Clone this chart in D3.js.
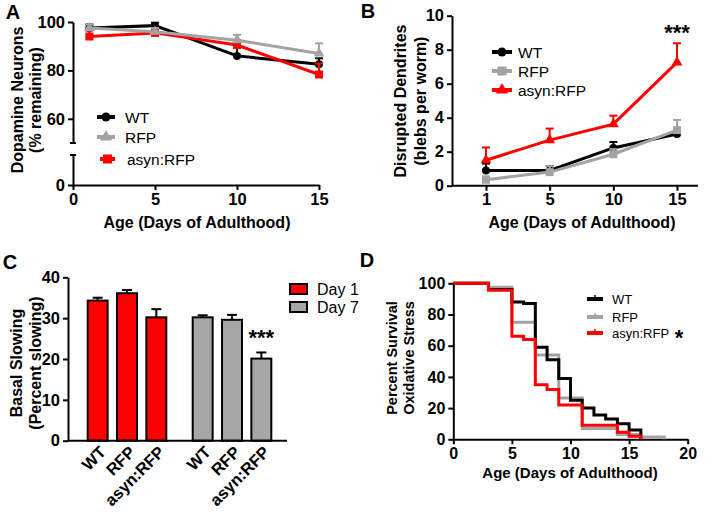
<!DOCTYPE html>
<html><head><meta charset="utf-8">
<script src="https://cdn.jsdelivr.net/npm/d3@7"></script>
<style>body{margin:0;background:#fff}svg{display:block}</style>
</head><body>
<script>
// ---------- DATA ----------
// Panel A: Dopamine neurons
const daysA = [1, 5, 10, 15];
const aWT = [97.5, 98.5, 86, 82.5];
const aWTerr = [1.5, 1.2, 4.5, 2.5];
const aRFP = [97.5, 96, 92.5, 87];
const aRFPerr = [1.5, 1.5, 2.2, 4.2];
const aAsyn = [94, 95.5, 90.5, 78.3];
const aAsynErr = [2.5, 1.5, 2, 4.5];
const aYTicks = [60, 80, 100];
const aXTicks = [0, 5, 10, 15];
// Panel B: Disrupted dendrites
const catsB = ["1", "5", "10", "15"];
const bWT = [0.9, 0.9, 2.22, 3.04];
const bWTerr = [0.4, 0.25, 0.35, 0.3];
const bRFP = [0.35, 0.8, 1.85, 3.27];
const bRFPerr = [0.2, 0.35, 0.3, 0.6];
const bAsyn = [1.5, 2.68, 3.62, 7.25];
const bAsynErr = [0.75, 0.68, 0.5, 1.13];
const bYTicks = [0, 2, 4, 6, 8, 10];
// Panel C: Basal slowing
const groupsC = ["Day 1", "Day 7"];
const genotypesC = ["WT", "RFP", "asyn:RFP"];
const cDay1 = [34.3, 36.1, 30.2];
const cDay1err = [0.7, 0.8, 2.0];
const cDay7 = [30.2, 29.6, 20.1];
const cDay7err = [0.5, 1.2, 1.5];
const cYTicks = [0, 10, 20, 30, 40];
// Panel D: Survival (time, percent)
const dWT = [[0,100],[3,96],[5,88],[6,87],[7,59],[8,51],[9,39],[10,25],[11,20],[12,15.5],[13,13],[14,10],[15,6],[16,0]];
const dRFP = [[0,100],[3,97.5],[5,75],[7,54],[9,26.5],[11,7],[14,3],[16,1.5],[18,0]];
const dAsyn = [[0,100],[3,95.5],[5,66],[6,64],[7,35],[8,32],[9,22],[11,9],[14,4.5],[15,2],[16,0]];
const dYTicks = [0, 20, 40, 60, 80, 100];
const dXTicks = [0, 5, 10, 15, 20];

// ---------- SETUP ----------
const RED = "#ff0000", GRAY = "#a3a3a3", BLACK = "#000";
const FONT = "'Liberation Sans', Arial, sans-serif";
const TICK_FS = 16.5, LAB_FS = 16;
const svg = d3.select("body").append("svg").attr("width", 711).attr("height", 514)
  .attr("font-family", FONT);

function styleAxis(g, fs) {
  g.select(".domain").attr("stroke-width", 2);
  g.selectAll(".tick line").attr("stroke-width", 2);
  g.selectAll(".tick text").attr("font-weight", "bold").attr("font-size", fs || TICK_FS)
    .attr("font-family", FONT).attr("fill", "#000");
}
function label(x, y, txt, opts = {}) {
  const t = svg.append("text").attr("x", x).attr("y", y).text(txt)
    .attr("font-size", opts.fs || LAB_FS).attr("font-weight", opts.w || "bold")
    .attr("text-anchor", opts.anchor || "middle").attr("dominant-baseline", "central");
  if (opts.rot) t.attr("transform", `rotate(${opts.rot},${x},${y})`);
  return t;
}
function marker(g, type, x, y, color, s) {
  if (type === "circle") g.append("circle").attr("cx", x).attr("cy", y).attr("r", s * 0.5).attr("fill", color);
  else if (type === "square") g.append("rect").attr("x", x - s / 2).attr("y", y - s / 2).attr("width", s).attr("height", s).attr("fill", color);
  else g.append("path").attr("d", d3.symbol(d3.symbolTriangle, s * s * 0.8)()).attr("transform", `translate(${x},${y})`).attr("fill", color);
}
function series(g, xs, ys, errs, yScale, color, mtype) {
  xs.forEach((x, i) => {
    const y0 = yScale(ys[i]), y1 = yScale(ys[i] + errs[i]);
    g.append("line").attr("x1", x).attr("x2", x).attr("y1", y0).attr("y2", y1).attr("stroke", color).attr("stroke-width", 2);
    g.append("line").attr("x1", x - 4).attr("x2", x + 4).attr("y1", y1).attr("y2", y1).attr("stroke", color).attr("stroke-width", 2);
  });
  g.append("path").attr("d", d3.line()(xs.map((x, i) => [x, yScale(ys[i])])))
    .attr("fill", "none").attr("stroke", color).attr("stroke-width", 3);
  xs.forEach((x, i) => marker(g, mtype, x, yScale(ys[i]), color, 8));
}
function legendItem(g, x1, x2, y, color, mtype, txt, tx, fs) {
  g.append("line").attr("x1", x1).attr("x2", x2).attr("y1", y).attr("y2", y).attr("stroke", color).attr("stroke-width", 4);
  if (mtype) marker(g, mtype, (x1 + x2) / 2, y, color, 9);
  g.append("text").attr("x", tx).attr("y", y).attr("dominant-baseline", "central").attr("font-size", fs || 15.5)
    .text(txt);
}

// ---------- PANEL A ----------
{
  const g = svg.append("g");
  const x = d3.scaleLinear().domain([0, 15]).range([73, 319]);
  const yU = d3.scaleLinear().domain([50, 100]).range([143, 22]);
  const yL = d3.scaleLinear().domain([0, 12.4]).range([185, 155]);
  const ax = g.append("g").attr("transform", "translate(0,185)")
    .call(d3.axisBottom(x).tickValues(aXTicks).tickSize(5).tickSizeOuter(0));
  styleAxis(ax);
  const ayU = g.append("g").attr("transform", "translate(73,0)")
    .call(d3.axisLeft(yU).tickValues(aYTicks).tickSize(5).tickSizeOuter(0));
  styleAxis(ayU);
  const ayL = g.append("g").attr("transform", "translate(73,0)")
    .call(d3.axisLeft(yL).tickValues([0]).tickSize(5).tickSizeOuter(0));
  styleAxis(ayL);
  [143, 155].forEach(yy => g.append("line").attr("x1", 70).attr("x2", 76).attr("y1", yy).attr("y2", yy).attr("stroke", "#000").attr("stroke-width", 2));
  const xs = daysA.map(d => x(d));
  series(g, xs, aWT, aWTerr, yU, BLACK, "circle");
  series(g, xs, aAsyn, aAsynErr, yU, RED, "square");
  series(g, xs, aRFP, aRFPerr, yU, GRAY, "triangle");
  legendItem(g, 97, 115, 117, BLACK, "circle", "WT", 125);
  legendItem(g, 97, 115, 137, GRAY, "triangle", "RFP", 125);
  legendItem(g, 100, 115, 159, RED, "square", "asyn:RFP", 127);
  label(13, 12, "A", { fs: 20 });
  label(17, 100, "Dopamine Neurons", { rot: -90 });
  label(35, 100, "(% remaining)", { rot: -90 });
  label(197, 222, "Age (Days of Adulthood)");
}

// ---------- PANEL B ----------
{
  const g = svg.append("g");
  const x = d3.scalePoint().domain(catsB).range([486, 677]);
  const y = d3.scaleLinear().domain([0, 10]).range([185.7, 15.7]);
  const ax = g.append("g").attr("transform", "translate(0,185.7)")
    .call(d3.axisBottom(x).tickSize(5).tickSizeOuter(0));
  styleAxis(ax);
  ax.select(".domain").remove();
  g.append("line").attr("x1", 452).attr("x2", 698).attr("y1", 185.7).attr("y2", 185.7).attr("stroke", "#000").attr("stroke-width", 2);
  const ay = g.append("g").attr("transform", "translate(452,0)")
    .call(d3.axisLeft(y).tickValues(bYTicks).tickSize(5).tickSizeOuter(0));
  styleAxis(ay);
  const xs = catsB.map(c => x(c));
  series(g, xs, bWT, bWTerr, y, BLACK, "circle");
  series(g, xs, bRFP, bRFPerr, y, GRAY, "square");
  series(g, xs, bAsyn, bAsynErr, y, RED, "triangle");
  legendItem(g, 492, 512, 52, BLACK, "circle", "WT", 518);
  legendItem(g, 492, 512, 71, GRAY, "square", "RFP", 518);
  legendItem(g, 492, 512, 90, RED, "triangle", "asyn:RFP", 518);
  label(368, 11, "B", { fs: 20 });
  label(400, 101, "Disrupted Dendrites", { rot: -90 });
  label(420, 101, "(blebs per worm)", { rot: -90 });
  label(582, 222, "Age (Days of Adulthood)");
  label(x("15"), 32, "***", { fs: 22 });
}

// ---------- PANEL C ----------
{
  const g = svg.append("g");
  const x0 = d3.scaleBand().domain(groupsC).range([83, 276]).paddingInner(0.162).paddingOuter(0);
  const x1 = d3.scaleBand().domain(genotypesC).range([0, x0.bandwidth()]).paddingInner(0.32).paddingOuter(0.16);
  const y = d3.scaleLinear().domain([0, 40]).range([440.7, 277.3]);
  const ay = g.append("g").attr("transform", "translate(68,0)")
    .call(d3.axisLeft(y).tickValues(cYTicks).tickSize(5).tickSizeOuter(0));
  styleAxis(ay);
  const vals = { "Day 1": [cDay1, cDay1err, RED], "Day 7": [cDay7, cDay7err, "#a6a6a6"] };
  groupsC.forEach(gr => {
    const [v, e, col] = vals[gr];
    genotypesC.forEach((gt, i) => {
      const bx = x0(gr) + x1(gt), bw = x1.bandwidth(), cx = bx + bw / 2;
      const yt = y(v[i]), ye = y(v[i] + e[i]);
      g.append("line").attr("x1", cx).attr("x2", cx).attr("y1", yt).attr("y2", ye).attr("stroke", "#000").attr("stroke-width", 2);
      g.append("line").attr("x1", cx - 5).attr("x2", cx + 5).attr("y1", ye).attr("y2", ye).attr("stroke", "#000").attr("stroke-width", 2);
      g.append("rect").attr("x", bx).attr("y", yt).attr("width", bw).attr("height", y(0) - yt)
        .attr("fill", col).attr("stroke", "#000").attr("stroke-width", 2);
      g.append("text").attr("transform", `translate(${cx + 5},${449}) rotate(-45)`)
        .attr("text-anchor", "end").attr("dominant-baseline", "central")
        .attr("font-size", TICK_FS).attr("font-weight", "bold").text(gt);
    });
  });
  g.append("line").attr("x1", 68).attr("x2", 287).attr("y1", 440.7).attr("y2", 440.7).attr("stroke", "#000").attr("stroke-width", 2);
  [["Day 1", RED, 289], ["Day 7", "#a6a6a6", 307]].forEach(([t, c, yy]) => {
    g.append("rect").attr("x", 290).attr("y", yy - 5).attr("width", 17).attr("height", 10).attr("fill", c).attr("stroke", "#000").attr("stroke-width", 2);
    g.append("text").attr("x", 317).attr("y", yy).attr("dominant-baseline", "central").attr("font-size", 16).text(t);
  });
  label(10, 262, "C", { fs: 20 });
  label(16, 363, "Basal Slowing", { rot: -90 });
  label(35, 363, "(Percent slowing)", { rot: -90 });
  label(x0("Day 7") + x1("asyn:RFP") + x1.bandwidth() / 2, 337, "***", { fs: 22 });
}

// ---------- PANEL D ----------
{
  const g = svg.append("g");
  const x = d3.scaleLinear().domain([0, 20]).range([453.3, 687.7]);
  const y = d3.scaleLinear().domain([0, 100]).range([439.3, 283.3]);
  const ax = g.append("g").attr("transform", "translate(0,439.3)")
    .call(d3.axisBottom(x).tickValues(dXTicks).tickSize(5).tickSizeOuter(0));
  styleAxis(ax, 16);
  const ay = g.append("g").attr("transform", "translate(453.3,0)")
    .call(d3.axisLeft(y).tickValues(dYTicks).tickSize(5).tickSizeOuter(0));
  styleAxis(ay, 16);
  const line = d3.line().x(d => x(d[0])).y(d => y(d[1])).curve(d3.curveStepAfter);
  [[dRFP, GRAY], [dWT, BLACK], [dAsyn, RED]].forEach(([d, c]) => {
    g.append("path").attr("d", line(d)).attr("fill", "none").attr("stroke", c).attr("stroke-width", 3);
  });
  [["WT", BLACK, 299], ["RFP", GRAY, 317], ["asyn:RFP", RED, 333]].forEach(([t, c, yy]) => {
    g.append("line").attr("x1", 587).attr("x2", 603).attr("y1", yy).attr("y2", yy).attr("stroke", c).attr("stroke-width", 4);
    g.append("line").attr("x1", 595).attr("x2", 595).attr("y1", yy - 4).attr("y2", yy).attr("stroke", c).attr("stroke-width", 1.5);
    g.append("text").attr("x", 612).attr("y", yy).attr("dominant-baseline", "central").attr("font-size", 13).text(t);
  });
  label(679, 337, "*", { fs: 22 });
  label(367, 260, "D", { fs: 20 });
  label(392, 358, "Percent Survival", { rot: -90, fs: 14.5 });
  label(409, 358, "Oxidative Stress", { rot: -90, fs: 14.5 });
  label(570, 472, "Age (Days of Adulthood)", { fs: 15 });
}
</script>
</body></html>
